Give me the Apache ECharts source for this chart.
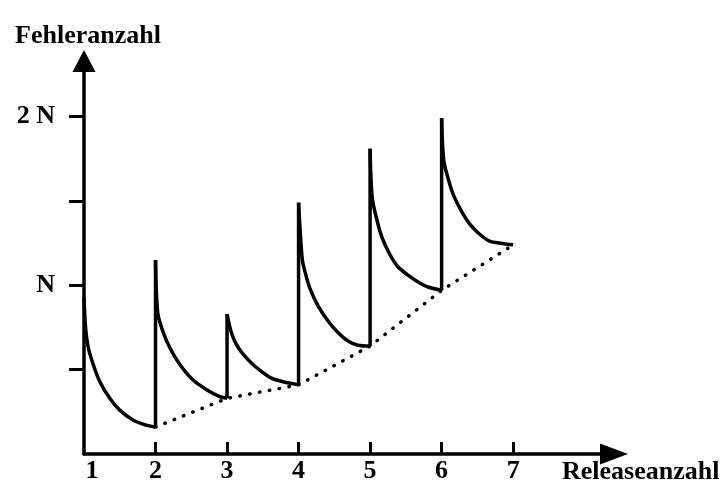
<!DOCTYPE html>
<html>
<head>
<meta charset="utf-8">
<script src="https://cdn.jsdelivr.net/npm/echarts@6/dist/echarts.min.js"></script>
<style>
  html, body { margin: 0; padding: 0; background: #fff; }
  #chart { width: 727px; height: 493px; }
</style>
</head>
<body>
<div id="chart"></div>
<script>
// Fehleranzahl (in N) ueber Releaseanzahl, je Release eine abklingende Kurve
const xTickValues = [2, 3, 4, 5, 6, 7];
const xLabelValues = [1, 2, 3, 4, 5, 6, 7];
const yTickValues = [0.5, 1, 1.5, 2];
const yLabelValues = [1, 2];
const yLabelTexts = ['N', '2 N'];

const release1 = [[1.00, 0.93], [1.02, 0.76], [1.06, 0.63], [1.13, 0.53], [1.22, 0.43], [1.36, 0.33], [1.50, 0.26], [1.69, 0.20], [1.88, 0.17], [2.00, 0.16]];
const release2 = [[2.00, 1.15], [2.03, 0.84], [2.10, 0.73], [2.20, 0.63], [2.34, 0.53], [2.52, 0.44], [2.72, 0.38], [2.90, 0.34], [3.00, 0.33]];
const release3 = [[3.00, 0.83], [3.06, 0.72], [3.13, 0.65], [3.21, 0.60], [3.34, 0.54], [3.48, 0.49], [3.62, 0.45], [3.77, 0.43], [4.00, 0.41]];
const release4 = [[4.00, 1.49], [4.05, 1.16], [4.09, 1.08], [4.16, 0.98], [4.27, 0.88], [4.41, 0.79], [4.55, 0.72], [4.69, 0.67], [4.83, 0.645], [5.00, 0.64]];
const release5 = [[5.00, 1.81], [5.03, 1.52], [5.10, 1.38], [5.17, 1.28], [5.28, 1.18], [5.39, 1.11], [5.53, 1.06], [5.67, 1.02], [5.81, 0.99], [6.00, 0.97]];
const release6 = [[6.00, 1.99], [6.03, 1.74], [6.10, 1.62], [6.17, 1.53], [6.29, 1.43], [6.40, 1.36], [6.54, 1.30], [6.68, 1.26], [6.82, 1.25], [7.00, 1.24]];
// gepunktete Linie durch die Endwerte
const trend = [[2, 0.16], [3, 0.33], [4, 0.41], [5, 0.64], [6, 0.97], [7, 1.24]];

const curves = [release1, release2, release3, release4, release5, release6];
const font = '"Liberation Serif", "Times New Roman", serif';
const fs = 26;

var chart = echarts.init(document.getElementById('chart'));

var series = [];
curves.forEach(function (c, i) {
    series.push({
        type: 'line',
        data: c,
        smooth: 0.3,
        showSymbol: false,
        symbol: 'none',
        lineStyle: { color: '#000', width: 3.5 }
    });
    // senkrechter Sprung beim neuen Release
    if (i > 0) {
        var prev = curves[i - 1];
        series.push({
            type: 'line',
            data: [[c[0][0], prev[prev.length - 1][1]], c[0]],
            showSymbol: false,
            symbol: 'none',
            lineStyle: { color: '#000', width: 3.5 }
        });
    }
});
series.push({
    type: 'line',
    data: trend,
    showSymbol: false,
    symbol: 'none',
    lineStyle: { color: '#000', width: 3.5, type: [0.5, 9.5], cap: 'round' }
});

var option = {
    animation: false,
    backgroundColor: '#fff',
    grid: { left: 84, right: 113, top: 61, bottom: 39, outerBoundsMode: 'none' },
    xAxis: {
        type: 'value',
        min: 1,
        max: 8.41,
        name: 'Releaseanzahl',
        nameLocation: 'end',
        nameGap: -52,
        nameMoveOverlap: false,
        nameTextStyle: {
            fontFamily: font, fontSize: fs, fontWeight: 'bold', color: '#000',
            align: 'left', verticalAlign: 'top', padding: [5, 0, 0, 0]
        },
        splitLine: { show: false },
        axisLine: {
            onZero: false,
            symbol: ['none', 'triangle'],
            symbolSize: [21, 28],
            lineStyle: { color: '#000', width: 3.5 }
        },
        axisTick: {
            inside: true, length: 12, customValues: xTickValues,
            lineStyle: { color: '#000', width: 3 }
        },
        axisLabel: {
            customValues: xLabelValues,
            margin: 4,
            fontFamily: font, fontSize: fs, fontWeight: 'bold', color: '#000',
            formatter: function (v) {
                return v === 1 ? '{first|1}' : String(v);
            },
            rich: {
                first: { fontFamily: font, fontSize: fs, fontWeight: 'bold', color: '#000', padding: [0, 0, 0, 16] }
            }
        }
    },
    yAxis: {
        type: 'value',
        min: 0,
        max: 2.33,
        name: 'Fehleranzahl',
        nameLocation: 'end',
        nameGap: 12,
        nameMoveOverlap: false,
        nameTextStyle: {
            fontFamily: font, fontSize: fs, fontWeight: 'bold', color: '#000',
            padding: [0, 0, 0, 8]
        },
        splitLine: { show: false },
        axisLine: {
            onZero: false,
            symbol: ['none', 'triangle'],
            symbolSize: [23, 22],
            lineStyle: { color: '#000', width: 3.5 }
        },
        axisTick: {
            length: 15, customValues: yTickValues,
            lineStyle: { color: '#000', width: 3 }
        },
        axisLabel: {
            customValues: yLabelValues,
            margin: 29,
            fontFamily: font, fontSize: fs, fontWeight: 'bold', color: '#000',
            formatter: function (v) {
                return yLabelTexts[yLabelValues.indexOf(v)];
            }
        }
    },
    series: series
};
chart.setOption(option);
</script>
</body>
</html>
